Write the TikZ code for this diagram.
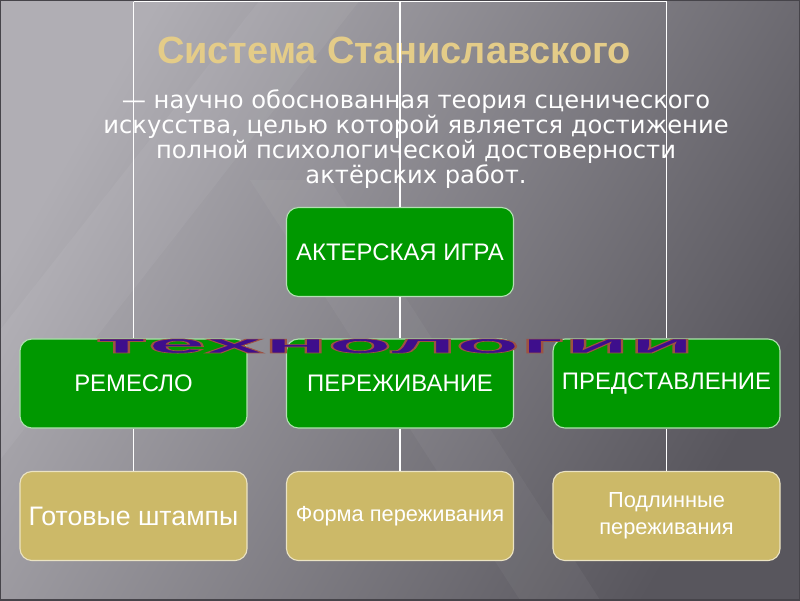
\documentclass[tikz,border=0pt]{standalone}
\usepackage{fontspec}
\setmainfont{Liberation Sans}
\newfontfamily\leadfont{DejaVu Sans}
\usepackage{graphicx}

\definecolor{bglight}{RGB}{176,174,180}
\definecolor{bgdark}{RGB}{88,86,93}
\definecolor{framegray}{RGB}{70,68,74}
\definecolor{titletan}{RGB}{228,204,136}
\definecolor{slidegreen}{RGB}{0,152,0}
\definecolor{slidetan}{RGB}{204,185,104}
\definecolor{artpurple}{RGB}{62,14,140}

% outlined word art: fill and stroke the glyphs
\newcommand\wordart[1]{\scalebox{3.42}[0.85]{\color{artpurple}%
	\special{pdf:literal direct 2 Tr 0.5 w 0.62 0.32 0.26 RG}#1\special{pdf:literal direct 0 Tr}}}

\tikzset{
	greenbox/.style={draw=white!70!slidegreen, line width=0.8pt, fill=slidegreen, rounded corners=0.3cm,
		minimum width=5.675cm, minimum height=2.225cm, inner sep=0pt, align=center,
		text=white, font=\fontsize{17}{19}\selectfont},
	tanbox/.style={greenbox, draw=white!60!slidetan, fill=slidetan},
	link/.style={draw=white, line width=1.4pt}
}

\begin{document}
\begin{tikzpicture}[x=0.025cm, y=-0.025cm]

		\useasboundingbox (0,0) rectangle (800,600);
		\shade[top color=bglight, bottom color=bgdark, shading angle=60] (0,0) rectangle (800,600);
		\fill[white, opacity=0.05] (260,0) -- (360,0) -- (0,460) -- (0,330) -- cycle;
		\fill[white, opacity=0.04] (250,180) -- (330,180) -- (600,600) -- (520,600) -- cycle;
		\draw[framegray, line width=1.5pt] (0,0) rectangle (800,600);

		% header
		\node[text=titletan, font=\bfseries\fontsize{27}{30}\selectfont] (title) at (394,50) {Система Станиславского};
		\node[text=white, align=center, font=\leadfont\fontsize{17.2}{15.6}\selectfont] (lead) at (416,139)
			{— научно обоснованная теория сценического\\ искусства, целью которой является достижение\\
			полной психологической достоверности\\ актёрских работ.};

		% connector ends at the top edge
		\coordinate (tl) at (133.5,1.5);
		\coordinate (tm) at (400,1.5);
		\coordinate (tr) at (666.5,1.5);

		% boxes
		\node[greenbox] (game) at (400,252) {АКТЕРСКАЯ ИГРА};

		\node[greenbox] (craft) at (133.5,383.5) {РЕМЕСЛО};
		\node[greenbox] (living) at (400,383.5) {ПЕРЕЖИВАНИЕ};
		\node[greenbox] (show) at (666.5,383.5) {ПРЕДСТАВЛЕНИЕ};

		\node[tanbox, font=\fontsize{19}{21}\selectfont] (stamps) at (133.5,516) {Готовые штампы};
		\node[tanbox, font=\fontsize{15.5}{19}\selectfont] (form) at (400,516) {Форма переживания};
		\node[tanbox, font=\fontsize{15.5}{19}\selectfont] (genuine) at (666.5,516) {Подлинные\\ переживания};

		% connectors
		\draw[link] (tl) -- (tr);
		\draw[link] (tl) -- (craft.north);
		\draw[link] (tm) -- (game.north);
		\draw[link] (tr) -- (show.north);
		\draw[link] (game.south) -- (living.north);
		\draw[link] (craft.south) -- (stamps.north);
		\draw[link] (living.south) -- (form.north);
		\draw[link] (show.south) -- (genuine.north);

		% word art over the middle row
		\node[font=\bfseries\fontsize{22}{24}\selectfont, inner sep=0pt] (art) at (395,346) {\wordart{технологии}};

	\end{tikzpicture}
\end{document}
